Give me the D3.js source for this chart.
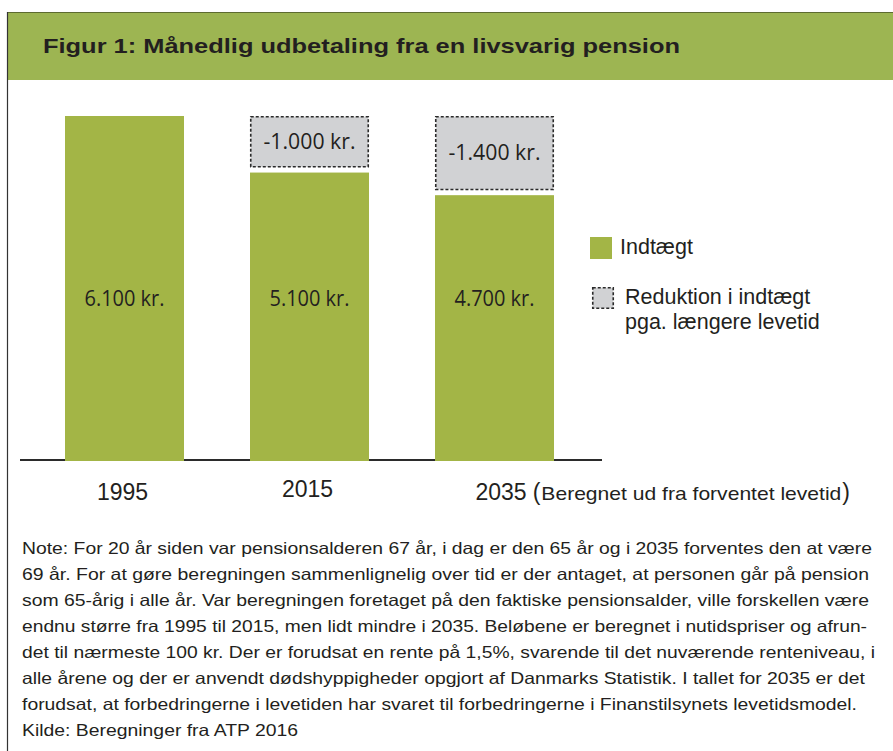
<!DOCTYPE html>
<html>
<head>
<meta charset="utf-8">
<script src="https://cdn.jsdelivr.net/npm/d3@7"></script>
<style>
  html, body { margin: 0; padding: 0; background: #fff; }
  svg { display: block; }
</style>
</head>
<body>
<svg id="chart" width="893" height="751"></svg>
<script>
// ---- data ----
const years = ["1995", "2015", "2035"];
const income = [6100, 5100, 4700];
const reduction = [0, 1000, 1400];
const incomeLabels = ["6.100 kr.", "5.100 kr.", "4.700 kr."];
const reductionLabels = ["", "-1.000 kr.", "-1.400 kr."];
const yearNotes = ["", "", "Beregnet ud fra forventet levetid"];
const legendItems = ["Indtægt", "Reduktion i indtægt|pga. længere levetid"];
const title = "Figur 1: Månedlig udbetaling fra en livsvarig pension";
const noteLines = [
  "Note: For 20 år siden var pensionsalderen 67 år, i dag er den 65 år og i 2035 forventes den at være",
  "69 år. For at gøre beregningen sammenlignelig over tid er der antaget, at personen går på pension",
  "som 65-årig i alle år. Var beregningen foretaget på den faktiske pensionsalder, ville forskellen være",
  "endnu større fra 1995 til 2015, men lidt mindre i 2035. Beløbene er beregnet i nutidspriser og afrun-",
  "det til nærmeste 100 kr. Der er forudsat en rente på 1,5%, svarende til det nuværende renteniveau, i",
  "alle årene og der er anvendt dødshyppigheder opgjort af Danmarks Statistik. I tallet for 2035 er det",
  "forudsat, at forbedringerne i levetiden har svaret til forbedringerne i Finanstilsynets levetidsmodel.",
  "Kilde: Beregninger fra ATP 2016"
];
const noteWidths = [850, 847, 847, 845, 853, 843, 835, 276];

// ---- styles ----
const GREEN = "#a3b546";
const HEADER = "#9db552";
const GRAY = "#d1d2d4";
const DARK = "#231f20";

const svg = d3.select("#chart");

// header
svg.append("rect").attr("x", 7).attr("y", 12).attr("width", 886).attr("height", 68).attr("fill", HEADER);
svg.append("line").attr("x1", 7).attr("x2", 893).attr("y1", 12.5).attr("y2", 12.5).attr("stroke", "#5d6b30").attr("stroke-width", 1);
svg.append("line").attr("x1", 7.5).attr("x2", 7.5).attr("y1", 12).attr("y2", 751).attr("stroke", "#333").attr("stroke-width", 1.2);
svg.append("text").attr("x", 43).attr("y", 53)
  .attr("font-family", "Liberation Sans, Arial, sans-serif").attr("font-weight", "bold")
  .attr("font-size", 21).attr("fill", DARK)
  .attr("textLength", 637).attr("lengthAdjust", "spacingAndGlyphs")
  .text(title);

// scales
const x = d3.scaleBand().domain(years).range([65, 554]).paddingInner(0.3568).paddingOuter(0);
const y = d3.scaleLinear().domain([0, 6100]).range([461, 116]);
const gap = 5;

// axis line
svg.append("line").attr("x1", 20).attr("x2", 602).attr("y1", 460).attr("y2", 460)
  .attr("stroke", "#2b2b2b").attr("stroke-width", 2);

const data = years.map((yr, i) => ({ yr, inc: income[i], red: reduction[i], il: incomeLabels[i], rl: reductionLabels[i], note: yearNotes[i] }));

// income bars
svg.selectAll("rect.inc").data(data).join("rect").attr("class", "inc")
  .attr("x", d => x(d.yr)).attr("width", x.bandwidth())
  .attr("y", d => y(d.inc)).attr("height", d => y(0) - y(d.inc))
  .attr("fill", GREEN);

// reduction boxes
const redData = data.filter(d => d.red > 0);
svg.selectAll("rect.red").data(redData).join("rect").attr("class", "red")
  .attr("x", d => x(d.yr) + 0.75).attr("width", x.bandwidth() - 1.5)
  .attr("y", d => y(d.inc + d.red) + 0.75)
  .attr("height", d => (y(d.inc) - gap) - y(d.inc + d.red) - 1.5)
  .attr("fill", GRAY).attr("stroke", "#2a2a2a").attr("stroke-width", 1.6)
  .attr("stroke-dasharray", "3,2");

svg.selectAll("text.red").data(redData).join("text").attr("class", "red")
  .attr("x", d => x(d.yr) + x.bandwidth() / 2)
  .attr("y", d => (y(d.inc + d.red) + y(d.inc) - gap) / 2)
  .attr("dy", "0.35em").attr("text-anchor", "middle")
  .attr("font-family", "Open Sans, Noto Sans, sans-serif").attr("font-size", 21).attr("fill", DARK)
  .attr("textLength", 92).attr("lengthAdjust", "spacingAndGlyphs")
  .text(d => d.rl);

// income labels (at a common level)
const labelY = (y(0) + y(6100)) / 2 + 10;
svg.selectAll("text.inc").data(data).join("text").attr("class", "inc")
  .attr("x", d => x(d.yr) + x.bandwidth() / 2)
  .attr("y", labelY).attr("dy", "0.35em").attr("text-anchor", "middle")
  .attr("font-family", "Open Sans, Noto Sans, sans-serif").attr("font-size", 21).attr("fill", DARK)
  .attr("textLength", 80).attr("lengthAdjust", "spacingAndGlyphs")
  .text(d => d.il);

// year labels
const yl = svg.selectAll("text.yr").data(data).join("text").attr("class", "yr")
  .attr("font-family", "Liberation Sans, Arial, sans-serif").attr("fill", DARK)
  .attr("x", d => d.note ? x(d.yr) + x.bandwidth() / 2 - 19 : x(d.yr) + x.bandwidth() / 2 - 2)
  .attr("y", (d, i) => i === 1 ? 497 : 500)
  .attr("text-anchor", d => d.note ? "start" : "middle");
yl.append("tspan").attr("font-size", 23).text(d => d.yr);
const nt = yl.filter(d => d.note);
nt.append("tspan").attr("dx", 6).attr("font-size", 23).text("(");
nt.append("tspan").attr("dx", 1).attr("font-size", 19)
  .attr("textLength", 300).attr("lengthAdjust", "spacingAndGlyphs").text(d => d.note);
nt.append("tspan").attr("dx", 1).attr("font-size", 23).text(")");

// legend
const lg = svg.append("g");
lg.append("rect").attr("x", 590).attr("y", 237).attr("width", 22).attr("height", 22).attr("fill", GREEN);
lg.append("text").attr("x", 620).attr("y", 254).attr("font-family", "Liberation Sans, Arial, sans-serif")
  .attr("font-size", 21.5).attr("fill", DARK).text(legendItems[0]);
lg.append("rect").attr("x", 592.75).attr("y", 287.75).attr("width", 20.5).attr("height", 20.5)
  .attr("fill", GRAY).attr("stroke", "#2a2a2a").attr("stroke-width", 1.6).attr("stroke-dasharray", "3,2");
const l2 = legendItems[1].split("|");
l2.forEach((t, i) => {
  lg.append("text").attr("x", 625).attr("y", 304 + i * 25).attr("font-family", "Liberation Sans, Arial, sans-serif")
    .attr("font-size", 21.5).attr("fill", DARK).text(t);
});

// notes
noteLines.forEach((t, i) => {
  svg.append("text").attr("x", 22).attr("y", 554 + i * 26)
    .attr("font-family", "Liberation Sans, Arial, sans-serif").attr("font-size", 16.5).attr("fill", DARK)
    .attr("textLength", noteWidths[i]).attr("lengthAdjust", "spacingAndGlyphs")
    .text(t);
});
</script>
</body>
</html>
